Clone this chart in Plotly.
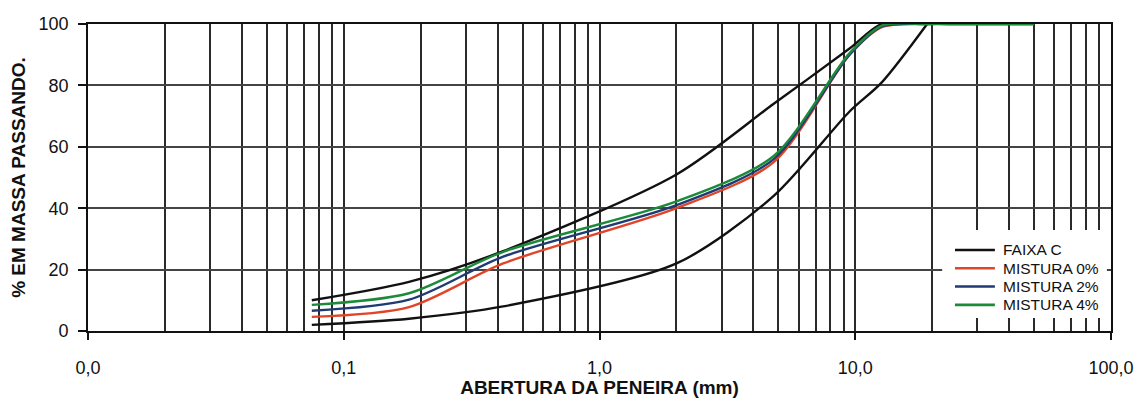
import plotly.graph_objects as go

# Sieve openings (mm) and passing percentages
sieves_faixa = [0.075, 0.18, 0.42, 2.0, 4.8, 9.5, 12.7, 19.1]
faixa_c_upper = [10, 16, 26, 51, 74, 92, 100, 100]
faixa_c_lower = [2, 4, 8, 22, 44, 71.5, 81, 100]

sieves_mix = [0.075, 0.18, 0.42, 2.0, 4.8, 9.5, 12.7, 19.1, 25.4, 38.1, 50.0]
mistura_0 = [4.6, 7.8, 22.0, 40.0, 55.0, 90.0, 99.0, 100, 100, 100, 100]
mistura_2 = [6.6, 10.2, 24.2, 41.0, 56.0, 90.0, 99.2, 100, 100, 100, 100]
mistura_4 = [8.5, 12.3, 25.8, 42.2, 57.0, 90.5, 99.5, 100, 100, 100, 100]

x_tick_vals = [0.01, 0.1, 1, 10, 100]
x_tick_text = ["0,0", "0,1", "1,0", "10,0", "100,0"]
y_tick_vals = [0, 20, 40, 60, 80, 100]

minor_vals = [m * 10 ** e for e in range(-2, 2) for m in range(2, 10)]

FONT = "Liberation Sans, Arial, sans-serif"
BLACK = "#111111"
COLORS = {"FAIXA C": BLACK, "MISTURA 0%": "#e0452a",
          "MISTURA 2%": "#1f3b73", "MISTURA 4%": "#1d8a3a"}

fig = go.Figure()

line_kw = dict(shape="spline", smoothing=0.8, width=2.4)

series = [
    ("FAIXA C", sieves_faixa, faixa_c_upper),
    ("FAIXA C", sieves_faixa, faixa_c_lower),
    ("MISTURA 0%", sieves_mix, mistura_0),
    ("MISTURA 2%", sieves_mix, mistura_2),
    ("MISTURA 4%", sieves_mix, mistura_4),
]
for name, xs, ys in series:
    fig.add_trace(go.Scatter(x=xs, y=ys, mode="lines", name=name, showlegend=False,
                             line=dict(color=COLORS[name], **line_kw)))

# Legend box drawn in paper coordinates, on top of the grid
legend_names = list(COLORS)
x0, x1 = 0.835, 0.996          # box extent (paper x)
y_top, y_bottom = 0.329, 0.042 # box extent (paper y)
first_row, row_h = 0.264, 0.0596
fig.add_shape(type="rect", xref="paper", yref="paper", layer="above",
              x0=x0, x1=x1, y0=y_bottom, y1=y_top,
              fillcolor="white", line=dict(width=0))
for i, name in enumerate(legend_names):
    yc = first_row - row_h * i
    fig.add_shape(type="line", xref="paper", yref="paper", layer="above",
                  x0=0.8475, x1=0.8865, y0=yc, y1=yc,
                  line=dict(color=COLORS[name], width=2.6))
    fig.add_annotation(x=0.892, y=yc, xref="paper", yref="paper", text=name,
                       showarrow=False, xanchor="left", yanchor="middle",
                       font=dict(size=15.5, family=FONT, color=BLACK))

fig.update_layout(
    width=1138, height=406,
    margin=dict(l=88, r=27, t=24, b=75),
    paper_bgcolor="white", plot_bgcolor="white",
    font=dict(family=FONT, color=BLACK, size=18),
    showlegend=False,
)

fig.update_xaxes(
    type="log", range=[-2, 2], automargin=False,
    tickvals=x_tick_vals, ticktext=x_tick_text,
    ticks="outside", ticklen=7, tickwidth=1.6, tickcolor=BLACK,
    ticklabelstandoff=12,
    showline=True, linecolor=BLACK, linewidth=1.8, mirror=True,
    showgrid=True, gridcolor="#2a2a2a", gridwidth=1.6,
    minor=dict(tickvals=minor_vals, showgrid=True, gridcolor="#2a2a2a",
               gridwidth=1.6, ticks=""),
    title=dict(text="ABERTURA DA PENEIRA (mm)", font=dict(size=19, weight="bold"),
               standoff=4),
)

fig.update_yaxes(
    range=[0, 100], automargin=False,
    tickvals=y_tick_vals,
    ticks="outside", ticklen=8, tickwidth=1.6, tickcolor=BLACK,
    ticklabelstandoff=6,
    showline=True, linecolor=BLACK, linewidth=1.8, mirror=True,
    showgrid=True, gridcolor="#444444", gridwidth=1.6,
    zeroline=False,
    title=dict(text="% EM MASSA PASSANDO.", font=dict(size=19, weight="bold"),
               standoff=8),
)

fig.write_html("out.html")
